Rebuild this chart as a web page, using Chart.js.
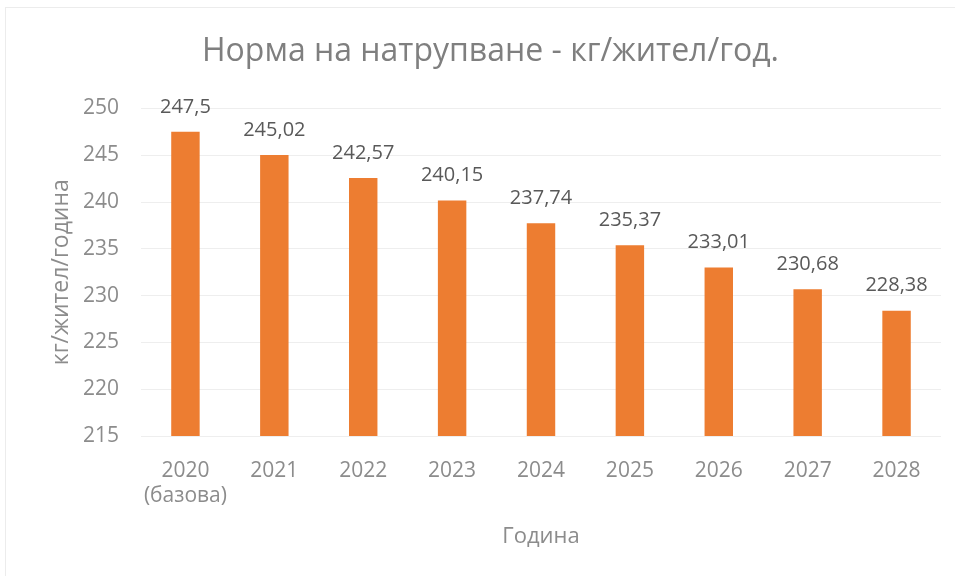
<!DOCTYPE html>
<html>
<head>
<meta charset="utf-8">
<script src="https://cdn.jsdelivr.net/npm/chart.js@4/dist/chart.umd.min.js"></script>
<style>
  html, body { margin: 0; padding: 0; background: #ffffff; }
  #wrap { width: 955px; height: 576px; }
</style>
</head>
<body>
<div id="wrap"><canvas id="normChart"></canvas></div>
<script>
// Норма на натрупване - данни
const years = [['2020', '(базова)'], '2021', '2022', '2023', '2024', '2025', '2026', '2027', '2028'];
const normValues = [247.5, 245.02, 242.57, 240.15, 237.74, 235.37, 233.01, 230.68, 228.38];
const yMin = 215;
const yMax = 250;
const yStep = 5;

const FONT = "'Open Sans', 'Noto Sans', sans-serif";

// value labels above each bar, decimal comma
const barLabels = {
    id: 'barLabels',
    afterDatasetsDraw(chart) {
        const ctx = chart.ctx;
        const meta = chart.getDatasetMeta(0);
        ctx.save();
        ctx.font = '20px ' + FONT;
        ctx.fillStyle = '#595959';
        ctx.textAlign = 'center';
        ctx.textBaseline = 'middle';
        meta.data.forEach((bar, i) => {
            const txt = String(normValues[i]).replace('.', ',');
            ctx.fillText(txt, bar.x, bar.y - 25);
        });
        ctx.restore();
    }
};

// faint frame around the chart
const frame = {
    id: 'frame',
    beforeDraw(chart) {
        const ctx = chart.ctx;
        ctx.save();
        ctx.strokeStyle = '#ececec';
        ctx.lineWidth = 1;
        ctx.strokeRect(5.5, 7.5, 960, 580);
        ctx.restore();
    }
};

new Chart(document.getElementById('normChart'), {
    type: 'bar',
    data: {
        labels: years,
        datasets: [
            {
                label: 'Норма на натрупване',
                data: normValues,
                backgroundColor: '#ed7d31',
                borderWidth: 0,
                barPercentage: 0.32,
                categoryPercentage: 1.0
            }
        ]
    },
    options: {
        responsive: true,
        maintainAspectRatio: false,
        animation: false,
        layout: {
            padding: { top: 10, bottom: 20, left: 40, right: 14 }
        },
        plugins: {
            legend: { display: false },
            tooltip: { enabled: false },
            title: {
                display: true,
                text: 'Норма на натрупване - кг/жител/год.',
                color: '#7f7f7f',
                font: { family: FONT, size: 32, weight: 'normal' },
                padding: { top: 23, bottom: 37 }
            }
        },
        scales: {
            y: {
                min: yMin,
                max: yMax,
                border: { display: false },
                grid: { color: '#eeeeee', drawTicks: false },
                ticks: {
                    stepSize: yStep,
                    color: '#8c8c8c',
                    font: { family: FONT, size: 21 },
                    padding: 22
                },
                title: {
                    display: true,
                    text: 'кг/жител/година',
                    color: '#8c8c8c',
                    font: { family: FONT, size: 23 },
                    padding: { top: 8, bottom: 0 }
                },
                afterFit(scale) { scale.width = 101; }
            },
            x: {
                border: { display: false },
                grid: { display: false },
                ticks: {
                    color: '#8c8c8c',
                    font: { family: FONT, size: 21 },
                    padding: 14
                        ,
                    maxRotation: 0
                },
                title: {
                    display: true,
                    text: 'Година',
                    color: '#8c8c8c',
                    font: { family: FONT, size: 22 },
                    padding: { top: 0, bottom: 6 }
                },
                afterFit(scale) { scale.height = 120; }
            }
        }
    },
    plugins: [frame, barLabels]
});
</script>
</body>
</html>
